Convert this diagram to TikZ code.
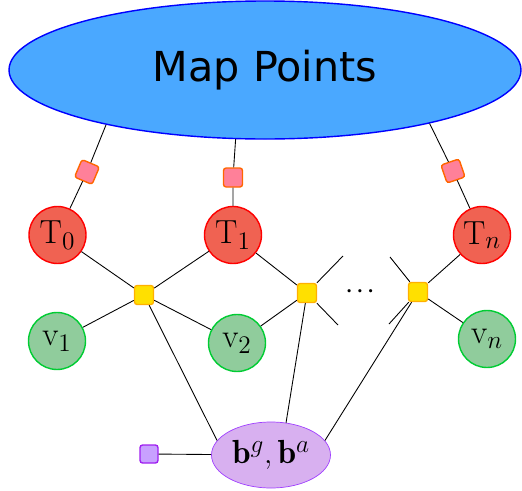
\documentclass[tikz,border=0pt]{standalone}
\usepackage{amsmath}
\usepackage{amssymb}
\usepackage{xcolor}
\usepackage{bm}
\usepackage{fontspec}
\newfontfamily\mapfont{DejaVu Sans}
\usetikzlibrary{arrows.meta, positioning, calc, fit, shapes.geometric}

\definecolor{mapfill}{RGB}{74,168,255}
\definecolor{posefill}{RGB}{240,98,82}
\definecolor{velfill}{RGB}{144,204,156}
\definecolor{velline}{RGB}{0,204,51}
\definecolor{imufill}{RGB}{255,224,0}
\definecolor{imuline}{RGB}{255,176,0}
\definecolor{projfill}{RGB}{255,128,153}
\definecolor{projline}{RGB}{255,102,0}
\definecolor{biasfill}{RGB}{216,176,240}
\definecolor{biasline}{RGB}{160,64,255}
\definecolor{priorfill}{RGB}{200,160,255}
\definecolor{priorline}{RGB}{160,32,240}

\begin{document}
\begin{tikzpicture}[
    pose/.style={circle, draw=red, thick, fill=posefill, minimum size=1.14cm, inner sep=0pt, font=\fontsize{19}{22}\selectfont},
    vel/.style={circle, draw=velline, thick, fill=velfill, minimum size=1.14cm, inner sep=0pt, font=\fontsize{19}{22}\selectfont},
    projfac/.style={rectangle, rounded corners=1.5pt, draw=projline, thick, fill=projfill, minimum size=0.38cm, inner sep=0pt},
    imufac/.style={rectangle, rounded corners=1.5pt, draw=imuline, thick, fill=imufill, minimum size=0.38cm, inner sep=0pt},
    edge/.style={draw=black, line width=0.5pt}
  ]
  \useasboundingbox (0,0) rectangle (10.44,9.8);

  % map and bias
  \node[ellipse, draw=blue, thick, fill=mapfill, minimum width=10.24cm, minimum height=2.76cm, inner sep=0pt,
        font=\mapfont\fontsize{23.5}{27}\selectfont] (map) at (5.3,8.4) {Map Points};
  \node[ellipse, draw=biasline, fill=biasfill, minimum width=2.38cm, minimum height=1.32cm, inner sep=0pt,
        font=\fontsize{19}{22}\selectfont] (bias) at (5.42,0.70) {$\mathbf{b}^g, \mathbf{b}^a$};
  \node[rectangle, rounded corners=1.5pt, draw=priorline, thick, fill=priorfill, minimum size=0.36cm, inner sep=0pt] (prior) at (2.98,0.72) {};

  % poses and velocities
  \node[pose] (T0) at (1.15,5.10) {$\mathrm{T}_0$};
  \node[pose] (T1) at (4.66,5.10) {$\mathrm{T}_1$};
  \node[pose] (Tn) at (9.64,5.10) {$\mathrm{T}_n$};
  \node[vel] (v1) at (1.14,2.98) {$\mathrm{v}_1$};
  \node[vel] (v2) at (4.74,2.94) {$\mathrm{v}_2$};
  \node[vel] (vn) at (9.74,3.02) {$\mathrm{v}_n$};

  % factors
  \node[projfac, rotate=-23] (f0) at (1.74,6.36) {};
  \node[projfac] (f1) at (4.66,6.25) {};
  \node[projfac, rotate=19] (fn) at (9.06,6.38) {};
  \node[imufac] (i1) at (2.88,3.90) {};
  \node[imufac] (i2) at (6.14,3.94) {};
  \node[imufac] (in) at (8.36,3.96) {};
  \node[font=\large] (dots) at (7.24,3.96) {$\boldsymbol{\cdots}$};

  \coordinate (d1) at (6.86,4.68);
  \coordinate (d2) at (6.76,3.30);
  \coordinate (d3) at (7.80,4.66);
  \coordinate (d4) at (7.78,3.32);

  % edges
  \draw[edge] (map.199) -- (f0) -- (T0);
  \draw[edge] (map.247) -- (f1) -- (T1);
  \draw[edge] (map.342) -- (fn) -- (Tn);
  \draw[edge] (T0) -- (i1) -- (T1);
  \draw[edge] (v1) -- (i1) -- (v2);
  \draw[edge] (i1) -- (bias.165);
  \draw[edge] (T1) -- (i2) -- (v2);
  \draw[edge] (i2) -- (bias.65);
  \draw[edge] (i2) -- (d1);
  \draw[edge] (i2) -- (d2);
  \draw[edge] (Tn) -- (in) -- (vn);
  \draw[edge] (in) -- (bias.15);
  \draw[edge] (in) -- (d3);
  \draw[edge] (in) -- (d4);
  \draw[edge] (prior) -- (bias);
\end{tikzpicture}
\end{document}
